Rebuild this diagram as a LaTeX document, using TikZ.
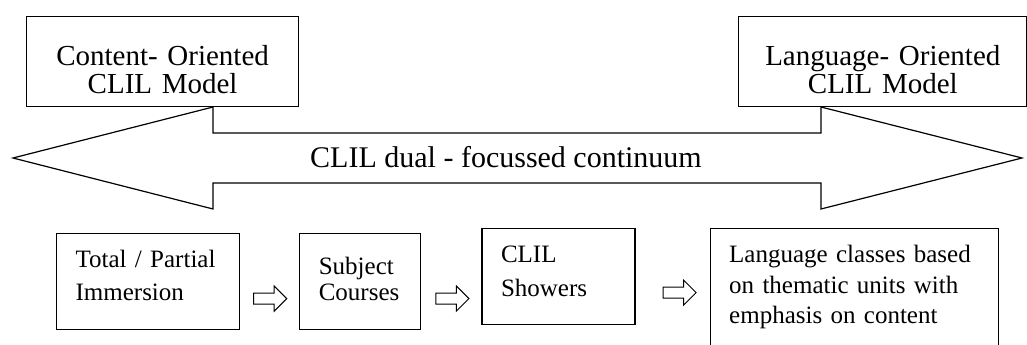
\documentclass[tikz,border=0pt]{standalone}
\usepackage{fontspec}
\setmainfont{Liberation Serif}
\usetikzlibrary{positioning}
\usetikzlibrary{shapes.arrows}

\begin{document}
\begin{tikzpicture}[
x=1pt, y=-1pt,
modelnode/.style={rectangle, draw, line width=1.2pt, align=center, inner xsep=0pt, inner ysep=0pt, text height=49pt, text depth=41pt, font=\fontsize{29}{28}\selectfont},
stagenode/.style={rectangle, draw, line width=1.2pt, align=left, inner xsep=19pt, inner ysep=0pt, text height=34pt, text depth=62pt, font=\fontsize{25}{31}\selectfont},
stepnode/.style={single arrow, draw, line width=1pt, minimum height=33pt, inner sep=5pt, single arrow head extend=7pt},
]
\useasboundingbox (0,0) rectangle (1027,345);
\clip (0,0) rectangle (1027,345);

%Continuum arrow
\draw[line width=1.2pt] (13,158) -- (213,107) -- (213,133) -- (821,133) -- (821,107) -- (1022,158)
  -- (821,209) -- (821,183) -- (213,183) -- (213,209) -- cycle;
\node[font=\fontsize{30}{36}\selectfont, anchor=base] (dual) at (506,167) {CLIL dual - focussed continuum};

%Nodes
\node[modelnode, text width=272pt, anchor=north west] (content) at (26,16) {Content- Oriented\\CLIL Model};
\node[modelnode, text width=288pt] (language) [right=439pt of content] {Language- Oriented\\CLIL Model};

\node[stagenode, text width=145pt, font=\fontsize{25}{33}\selectfont, anchor=north west] (immersion) at (56,233) {Total / Partial\\Immersion};
\node[stagenode, text width=83pt, text height=41pt, text depth=55pt, font=\fontsize{25}{26}\selectfont] (subject) [right=59pt of immersion] {Subject\\Courses};
\node[stagenode, text width=115pt, font=\fontsize{25}{34}\selectfont] (showers) [right=60pt of subject, yshift=5pt] {CLIL\\Showers};
\node[stagenode, text width=250pt, text depth=100pt, font=\fontsize{25}{30.5}\selectfont] (thematic) [right=74pt of showers.north east, anchor=north west] {Language classes based\\on thematic units with\\emphasis on content};

%Steps
\node[stepnode] (step1) [right=13pt of immersion, yshift=-17pt] {};
\node[stepnode] (step2) [right=14pt of subject, yshift=-17pt] {};
\node[stepnode] (step3) [right=27pt of showers, yshift=-16pt] {};
\end{tikzpicture}
\end{document}
